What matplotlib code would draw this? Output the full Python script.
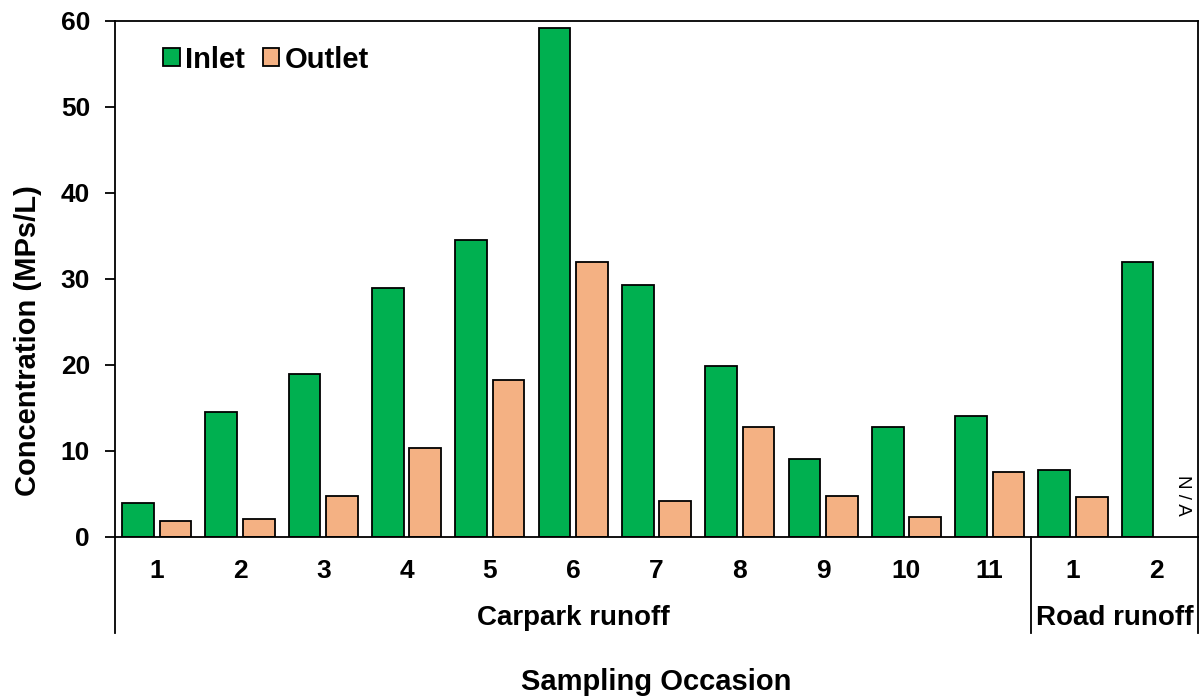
import matplotlib.pyplot as plt
import matplotlib.transforms as mtransforms
import numpy as np

plt.rcParams['font.family'] = ['Liberation Sans', 'DejaVu Sans']

# data
occasions = ['1', '2', '3', '4', '5', '6', '7', '8', '9', '10', '11', '1', '2']
inlet = [3.9, 14.5, 19.0, 29.0, 34.5, 59.2, 29.3, 19.9, 9.1, 12.8, 14.1, 7.8, 32.0]
outlet = [1.9, 2.1, 4.8, 10.3, 18.3, 32.0, 4.2, 12.8, 4.8, 2.3, 7.6, 4.6, np.nan]
groups = ['Carpark runoff', 'Road runoff']
group_sizes = [11, 2]

W, H = 1201, 697
fig = plt.figure(figsize=(W / 100, H / 100), dpi=100)
ax = fig.add_axes([115 / W, 1 - 537 / H, (1198 - 115) / W, (537 - 21) / H])

x = np.arange(len(occasions))
bw = 0.38
ax.bar(x - 0.225, inlet, bw, color='#00B050', edgecolor='black', linewidth=1.3, label='Inlet')
ax.bar(x + 0.225, outlet, bw, color='#F4B183', edgecolor='black', linewidth=1.3, label='Outlet')

# missing outlet value
ax.text(12 + 0.31, 4.8, 'N / A', rotation=270, ha='center', va='center', fontsize=13.5)

ax.set_xlim(-0.5, len(occasions) - 0.5)
ax.set_ylim(0, 60)
ax.set_yticks(range(0, 61, 10))
ax.set_xticks(x)
ax.set_xticklabels(occasions, fontsize=19, fontweight='bold')
ax.tick_params(axis='x', length=0, pad=16)
ax.tick_params(axis='y', direction='out', length=7, width=1.3, labelsize=19, pad=11)
for lbl in ax.get_yticklabels():
    lbl.set_fontweight('bold')
for s in ax.spines.values():
    s.set_linewidth(1.3)

# group separators and labels under the axis
trans = mtransforms.blended_transform_factory(ax.transData, ax.transAxes)
drop = -(633 - 537) / (537 - 21)
edges = np.concatenate([[0], np.cumsum(group_sizes)]) - 0.5
for e in edges:
    ax.plot([e, e], [0, drop], transform=trans, color='black', lw=1.3, clip_on=False)
for i, g in enumerate(groups):
    ax.text((edges[i] + edges[i + 1]) / 2, -(618 - 537) / (537 - 21), g, transform=trans,
            ha='center', va='center', fontsize=20, fontweight='bold')

ax.set_ylabel('Concentration (MPs/L)', fontsize=21, fontweight='bold')
ax.yaxis.set_label_coords((28 - 115) / (1198 - 115), (537 - 341) / (537 - 21))
ax.yaxis.label.set_va('center')
fig.text((115 + 1198) / 2 / W, 1 - 682 / H, 'Sampling Occasion', ha='center', va='center',
         fontsize=21, fontweight='bold')

ax.legend(loc='upper left', bbox_to_anchor=(0.034, 0.975), ncol=2, frameon=False,
          prop={'size': 21, 'weight': 'bold'}, handlelength=0.55, handleheight=0.55,
          handletextpad=0.2, columnspacing=0.6, borderaxespad=0)

fig.savefig('out.png', dpi=100)
